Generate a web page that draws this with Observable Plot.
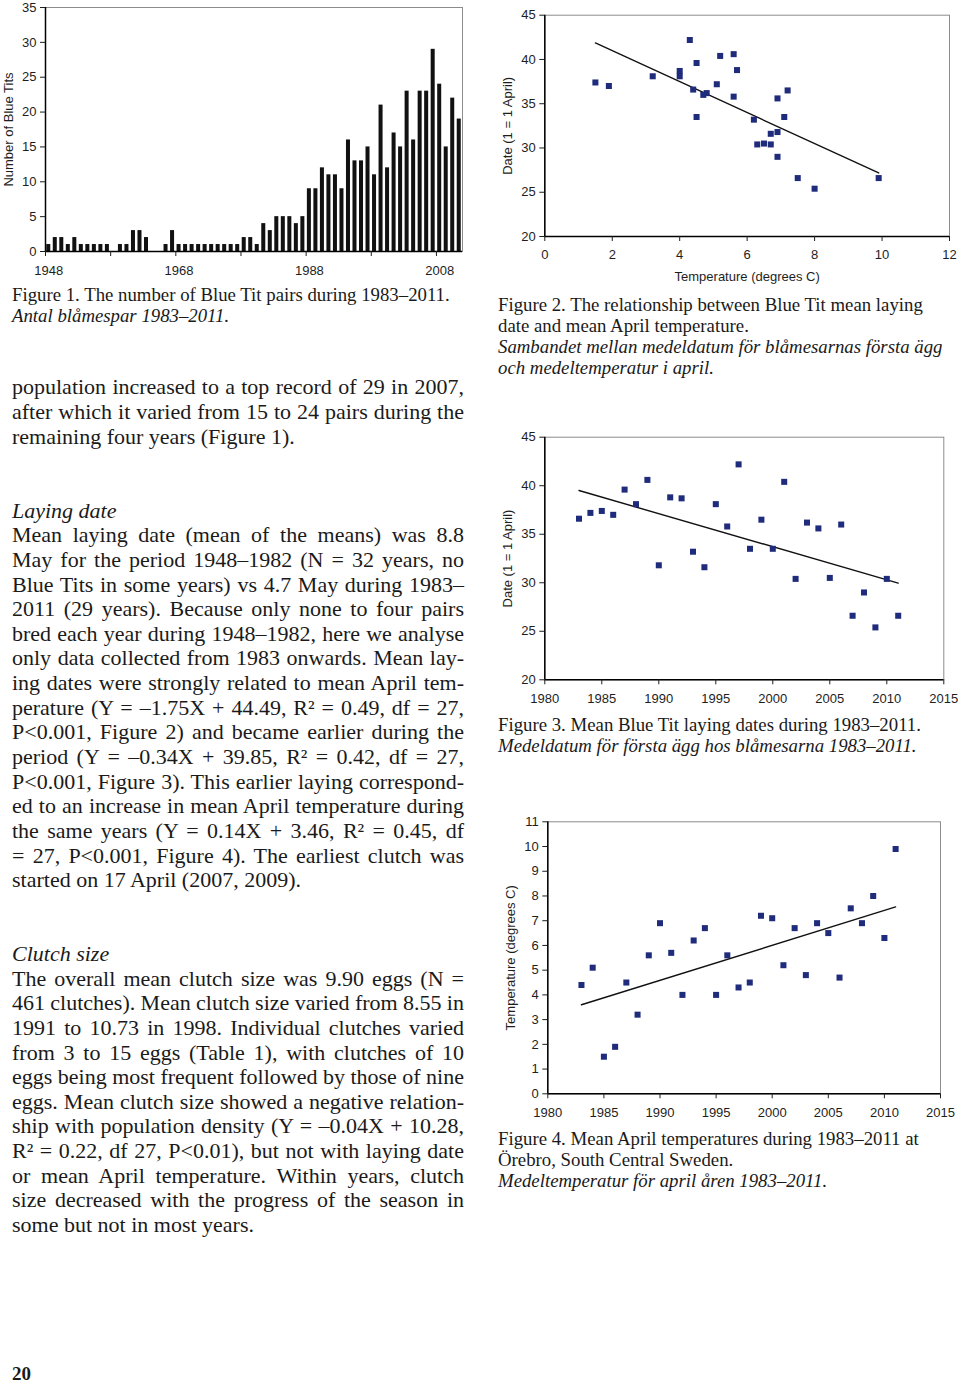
<!DOCTYPE html>
<html><head><meta charset="utf-8">
<script src="https://cdn.jsdelivr.net/npm/d3@7"></script>
<script src="https://cdn.jsdelivr.net/npm/@observablehq/plot@0.6"></script>
<style>
html,body{margin:0;padding:0;background:#fff;}
#page{position:relative;width:960px;height:1384px;overflow:hidden;background:#fff;font-family:"Liberation Serif","Times New Roman",serif;color:#1a1a1a;}
.chart{position:absolute;}
.chart svg{overflow:visible;}
.block{position:absolute;}
.line{display:block;white-space:nowrap;}
.body{font-size:22px;line-height:24.64px;}
.cap{font-size:18.8px;line-height:21px;}
.pnum{font-size:19px;line-height:19px;font-weight:bold;}
</style></head><body><div id="page"></div>
<script>
// ---------- DATA ----------
const fig1Years = [1948,1949,1950,1951,1952,1953,1954,1955,1956,1957,
  1958,1959,1960,1961,1962,1963,1964,1965,1966,1967,
  1968,1969,1970,1971,1972,1973,1974,1975,1976,1977,
  1978,1979,1980,1981,1982,1983,1984,1985,1986,1987,
  1988,1989,1990,1991,1992,1993,1994,1995,1996,1997,
  1998,1999,2000,2001,2002,2003,2004,2005,2006,2007,
  2008,2009,2010,2011];
const pairCounts = [1,2,2,1,2,1,1,1,1,1,
  0,1,1,3,3,2,0,0,1,3,
  1,1,1,1,1,1,1,1,1,1,
  2,2,1,4,3,5,5,5,4,5,
  9,9,12,11,11,9,16,13,13,15,
  11,21,12,17,15,23,16,23,23,29,
  24,15,22,19];
const fig1YTicks = [0,5,10,15,20,25,30,35];
const fig1TickYears = [1948,1958,1968,1978,1988,1998,2008];
const fig1LabelYears = [1948,1968,1988,2008];

const studyYears = [1983,1984,1985,1986,1987,1988,1989,1990,1991,1992,
  1993,1994,1995,1996,1997,1998,1999,2000,2001,2002,
  2003,2004,2005,2006,2007,2008,2009,2010,2011];
const aprilTemp = [4.4,5.1,1.5,1.9,4.5,3.2,5.6,6.9,5.7,4.0,
  6.2,6.7,4.0,5.6,4.3,4.5,7.2,7.1,5.2,6.7,
  4.8,6.9,6.5,4.7,7.5,6.9,8.0,6.3,9.9];
const layingDate = [36.6,37.2,37.4,37.0,39.6,38.1,40.6,31.8,38.8,38.7,
  33.2,31.6,38.1,35.8,42.2,33.5,36.5,33.5,40.4,30.4,
  36.2,35.6,30.5,36.0,26.6,29.0,25.4,30.4,26.6];

const fig2XTicks = [0,2,4,6,8,10,12];
const dateTicks = [20,25,30,35,40,45];
const yearTicks = [1980,1985,1990,1995,2000,2005,2010,2015];
const tempTicks = [0,1,2,3,4,5,6,7,8,9,10,11];

// ---------- helpers ----------
const page = document.getElementById("page");
const NAVY = "#1f2b7b";
const chartStyle = {fontFamily: "'Liberation Sans', Arial, sans-serif", fontSize: "13px", color: "#1e1e1e", background: "none"};
function place(svg, left, top) {
  const d = document.createElement("div");
  d.className = "chart"; d.style.left = left + "px"; d.style.top = top + "px";
  d.appendChild(svg); page.appendChild(d);
}

// ---------- Figure 1 ----------
const fig1Data = fig1Years.map((year, i) => ({year, count: pairCounts[i]}));
place(Plot.plot({
  width: 470, height: 280,
  marginLeft: 45, marginRight: 8, marginTop: 7, marginBottom: 29,
  style: chartStyle,
  x: {type: "linear", domain: [fig1Years[0], fig1Years[fig1Years.length - 1] + 1]},
  y: {domain: [0, 35]},
  marks: [
    Plot.frame({stroke: "#8c8c8c"}),
    Plot.rectY(fig1Data, {x: "year", interval: 1, y: "count", fill: "#111", insetLeft: 1.25, insetRight: 1.25}),
    Plot.ruleX([fig1Years[0]], {stroke: "#000", strokeWidth: 1.5}),
    Plot.ruleY([0], {stroke: "#000", strokeWidth: 1.5}),
    Plot.axisY({ticks: fig1YTicks, tickSize: 5, tickPadding: 4, tickFormat: d => String(d),
      label: "Number of Blue Tits", labelAnchor: "center", labelOffset: 42, labelArrow: "none"}),
    Plot.axisX({ticks: fig1TickYears, tickSize: 5, tickFormat: () => "", label: null}),
    Plot.axisX({ticks: fig1LabelYears.map(y => y + 0.5), tickSize: 0, tickPadding: 14.5,
      tickFormat: d => String(d - 0.5), label: null})
  ]
}), 0, 0);

// ---------- scatter helper ----------
function scatter({data, x, y, xDomain, yDomain, xTicks, yTicks, width, height, ml, mr, mt, mb, yLabel, xLabel}) {
  return Plot.plot({
    width, height, marginLeft: ml, marginRight: mr, marginTop: mt, marginBottom: mb,
    style: chartStyle,
    x: {domain: xDomain}, y: {domain: yDomain},
    marks: [
      Plot.frame({stroke: "#8c8c8c"}),
      Plot.ruleX([xDomain[0]], {stroke: "#000", strokeWidth: 1.5}),
      Plot.ruleY([yDomain[0]], {stroke: "#000", strokeWidth: 1.5}),
      Plot.axisY({ticks: yTicks, tickSize: 5, tickPadding: 4, tickFormat: d => String(d),
        label: yLabel, labelAnchor: "center", labelOffset: 42, labelArrow: "none"}),
      Plot.axisX({ticks: xTicks, tickSize: 5, tickPadding: 8.5, tickFormat: d => String(d),
        label: xLabel, labelAnchor: "center", labelOffset: 44, labelArrow: "none"}),
      Plot.linearRegressionY(data, {x, y, ci: 0, stroke: "#111", strokeWidth: 1.4}),
      Plot.dot(data, {x, y, symbol: "square", r: 3.4, fill: NAVY, stroke: "none"})
    ]
  });
}
const study = studyYears.map((year, i) => ({year, temp: aprilTemp[i], date: layingDate[i]}));

// Figure 2
place(scatter({data: study, x: "temp", y: "date", xDomain: [0, 12], yDomain: [20, 45],
  xTicks: fig2XTicks, yTicks: dateTicks, width: 470, height: 290,
  ml: 54.3, mr: 11, mt: 14.7, mb: 54,
  yLabel: "Date (1 = 1 April)", xLabel: "Temperature (degrees C)"}), 490, 0);

// Figure 3
place(scatter({data: study, x: "year", y: "date", xDomain: [1980, 2015], yDomain: [20, 45],
  xTicks: yearTicks, yTicks: dateTicks, width: 470, height: 290,
  ml: 54.3, mr: 16.7, mt: 16.7, mb: 30.7,
  yLabel: "Date (1 = 1 April)", xLabel: null}), 490, 420);

// Figure 4
place(scatter({data: study, x: "year", y: "temp", xDomain: [1980, 2015], yDomain: [0, 11],
  xTicks: yearTicks, yTicks: tempTicks, width: 470, height: 320,
  ml: 57.3, mr: 20, mt: 16.3, mb: 31.7,
  yLabel: "Temperature (degrees C)", xLabel: null}), 490, 805);

// ---------- text ----------
const pending = [];
function addBlock(x, y, width, cls, paras) {
  const div = document.createElement("div");
  div.className = "block " + cls;
  div.style.left = x + "px"; div.style.top = y + "px"; div.style.width = width + "px";
  for (const p of paras) {
    p.lines.forEach((t, k) => {
      const line = document.createElement("div");
      line.className = "line";
      const span = document.createElement("span");
      span.textContent = t;
      if (p.italic) span.style.fontStyle = "italic";
      line.appendChild(span);
      div.appendChild(line);
      if (p.justify && k < p.lines.length - 1) pending.push({span, width, t});
    });
  }
  page.appendChild(div);
}

addBlock(12, 283.9, 460, "cap", [
  {lines: ["Figure 1. The number of Blue Tit pairs during 1983–2011."]},
  {lines: ["Antal blåmespar 1983–2011."], italic: true}
]);
addBlock(12, 375.3, 452, "body", [
  {justify: true, lines: [
    "population increased to a top record of 29 in 2007,",
    "after which it varied from 15 to 24 pairs during the",
    "remaining four years (Figure 1)."]}
]);
addBlock(12, 498.6, 452, "body", [
  {lines: ["Laying date"], italic: true},
  {justify: true, lines: [
    "Mean laying date (mean of the means) was 8.8",
    "May for the period 1948–1982 (N = 32 years, no",
    "Blue Tits in some years) vs 4.7 May during 1983–",
    "2011 (29 years). Because only none to four pairs",
    "bred each year during 1948–1982, here we analyse",
    "only data collected from 1983 onwards. Mean lay-",
    "ing dates were strongly related to mean April tem-",
    "perature (Y = –1.75X + 44.49, R² = 0.49, df = 27,",
    "P<0.001, Figure 2) and became earlier during the",
    "period (Y = –0.34X + 39.85, R² = 0.42, df = 27,",
    "P<0.001, Figure 3). This earlier laying correspond-",
    "ed to an increase in mean April temperature during",
    "the same years (Y = 0.14X + 3.46, R² = 0.45, df",
    "= 27, P<0.001, Figure 4). The earliest clutch was",
    "started on 17 April (2007, 2009)."]}
]);
addBlock(12, 942, 452, "body", [
  {lines: ["Clutch size"], italic: true},
  {justify: true, lines: [
    "The overall mean clutch size was 9.90 eggs (N =",
    "461 clutches). Mean clutch size varied from 8.55 in",
    "1991 to 10.73 in 1998. Individual clutches varied",
    "from 3 to 15 eggs (Table 1), with clutches of 10",
    "eggs being most frequent followed by those of nine",
    "eggs. Mean clutch size showed a negative relation-",
    "ship with population density (Y = –0.04X + 10.28,",
    "R² = 0.22, df 27, P<0.01), but not with laying date",
    "or mean April temperature. Within years, clutch",
    "size decreased with the progress of the season in",
    "some but not in most years."]}
]);
addBlock(498, 293.9, 460, "cap", [
  {lines: ["Figure 2. The relationship between Blue Tit mean laying", "date and mean April temperature."]},
  {lines: ["Sambandet mellan medeldatum för blåmesarnas första ägg", "och medeltemperatur i april."], italic: true}
]);
addBlock(498, 714, 460, "cap", [
  {lines: ["Figure 3. Mean Blue Tit laying dates during 1983–2011."]},
  {lines: ["Medeldatum för första ägg hos blåmesarna 1983–2011."], italic: true}
]);
addBlock(498, 1128.2, 460, "cap", [
  {lines: ["Figure 4. Mean April temperatures during 1983–2011 at", "Örebro, South Central Sweden."]},
  {lines: ["Medeltemperatur för april åren 1983–2011."], italic: true}
]);
addBlock(12, 1364, 100, "pnum", [{lines: ["20"]}]);

for (const {span, width, t} of pending) {
  const natural = span.getBoundingClientRect().width;
  const spaces = (t.match(/ /g) || []).length;
  if (spaces > 0) span.style.wordSpacing = ((width - natural) / spaces) + "px";
}
</script></body></html>
